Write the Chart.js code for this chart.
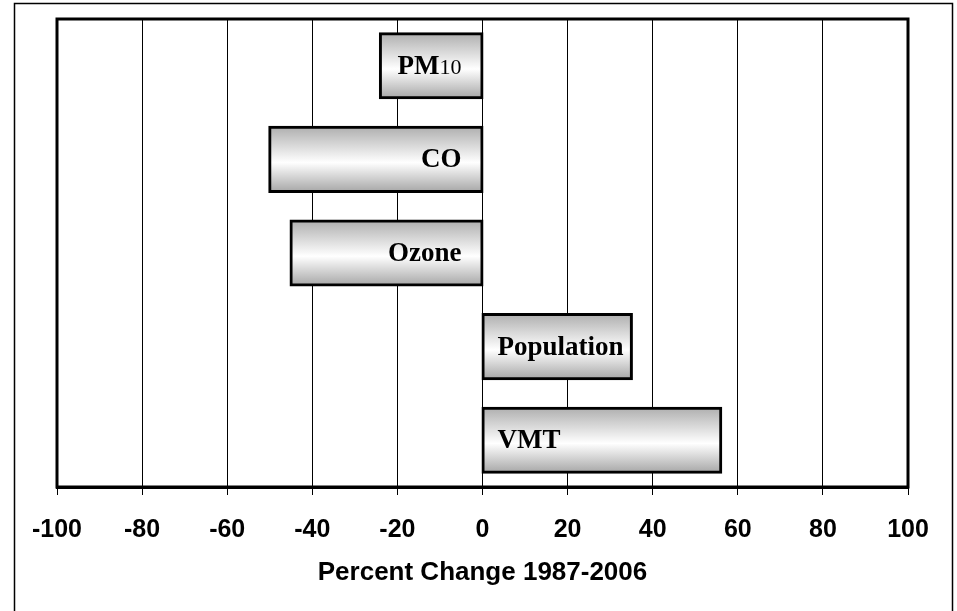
<!DOCTYPE html>
<html>
<head>
<meta charset="utf-8">
<script src="https://cdn.jsdelivr.net/npm/chart.js@4"></script>
<style>
    html, body { margin: 0; padding: 0; background: #fff; }
    #wrap { position: relative; width: 957px; height: 611px; }
</style>
</head>
<body>
<div id="wrap"><canvas id="changeChart" width="957" height="611"></canvas></div>
<script>
// Chart data
const categories = ['PM10', 'CO', 'Ozone', 'Population', 'VMT'];
const percentChange = [-24, -50, -45, 35, 56];
const axisMin = -100;
const axisMax = 100;
const axisStep = 20;
const axisTitle = 'Percent Change 1987-2006';

// outer frame + plot frame
const framePlugin = {
    id: 'frames',
    beforeDraw(chart) {
        const c = chart.ctx;
        c.save();
        c.strokeStyle = '#000';
        c.lineWidth = 1.5;
        c.strokeRect(14.5, 3.5, 938, 700);
        c.restore();
    },
    afterDatasetsDraw(chart) {
        const a = chart.chartArea;
        const c = chart.ctx;
        c.save();
        c.strokeStyle = '#000';
        c.lineWidth = 3;
        c.strokeRect(a.left, a.top, a.right - a.left, a.bottom - a.top);
        c.restore();
    }
};

// grey-white-grey shading on each bar (own options object per bar)
const shadePlugin = {
    id: 'shade',
    beforeDatasetsDraw(chart) {
        const c = chart.ctx;
        chart.getDatasetMeta(0).data.forEach(bar => {
            const top = bar.y - bar.height / 2;
            const g = c.createLinearGradient(0, top, 0, top + bar.height);
            g.addColorStop(0, '#b0b0b0');
            g.addColorStop(0.55, '#ffffff');
            g.addColorStop(1, '#a8a8a8');
            bar.options = Object.assign({}, bar.options, { backgroundColor: g });
        });
    }
};

// category names written inside the bars
const barLabelPlugin = {
    id: 'barLabels',
    afterDatasetsDraw(chart) {
        const c = chart.ctx;
        const x0 = chart.scales.x.getPixelForValue(0);
        const bold = 'bold 27px "Liberation Serif", serif';
        const small = '22px "Liberation Serif", serif';
        c.save();
        c.fillStyle = '#000';
        c.textBaseline = 'middle';
        chart.getDatasetMeta(0).data.forEach((bar, i) => {
            const name = categories[i];
            const neg = percentChange[i] < 0;
            const y = bar.y + 1;
            if (name === 'PM10') {
                // "PM" bold with smaller "10"
                c.font = bold;
                const w1 = c.measureText('PM').width;
                c.font = small;
                const w2 = c.measureText('10').width;
                const start = neg ? x0 - 21 - w1 - w2 : x0 + 18;
                c.textAlign = 'left';
                c.font = bold;
                c.fillText('PM', start, y);
                c.font = small;
                c.fillText('10', start + w1, y + 1);
            } else {
                c.font = bold;
                c.textAlign = neg ? 'right' : 'left';
                c.fillText(name, neg ? x0 - 21 : x0 + 15, y);
            }
        });
        c.restore();
    }
};

new Chart(document.getElementById('changeChart'), {
    type: 'bar',
    data: {
        labels: categories,
        datasets: [{
            data: percentChange,
            backgroundColor: '#ddd',
            borderColor: '#000',
            borderWidth: 3,
            borderSkipped: false,
            inflateAmount: 1.5,  // centre the outline on the bar edge
            categoryPercentage: 1,
            barPercentage: 0.685
        }]
    },
    options: {
        indexAxis: 'y',
        responsive: false,
        animation: false,
        layout: { padding: { left: 57, top: 19, right: 49, bottom: 0 } },
        plugins: {
            legend: { display: false },
            tooltip: { enabled: false }
        },
        scales: {
            x: {
                min: axisMin,
                max: axisMax,
                afterFit: scale => { scale.height = 124; },
                ticks: {
                    stepSize: axisStep,
                    color: '#000',
                    padding: 20,
                    font: { family: '"Liberation Sans", Arial, sans-serif', size: 25, weight: 'bold' },
                    maxRotation: 0
                },
                grid: { color: '#000', lineWidth: 1, drawTicks: true, tickLength: 8 },
                border: { display: true, color: '#000', width: 3 },
                title: {
                    display: true,
                    text: axisTitle,
                    color: '#000',
                    font: { family: '"Liberation Sans", Arial, sans-serif', size: 26, weight: 'bold' },
                    padding: { top: 0, bottom: 23 }
                }
            },
            y: {
                display: false
            }
        }
    },
    plugins: [framePlugin, shadePlugin, barLabelPlugin]
});
</script>
</body>
</html>
